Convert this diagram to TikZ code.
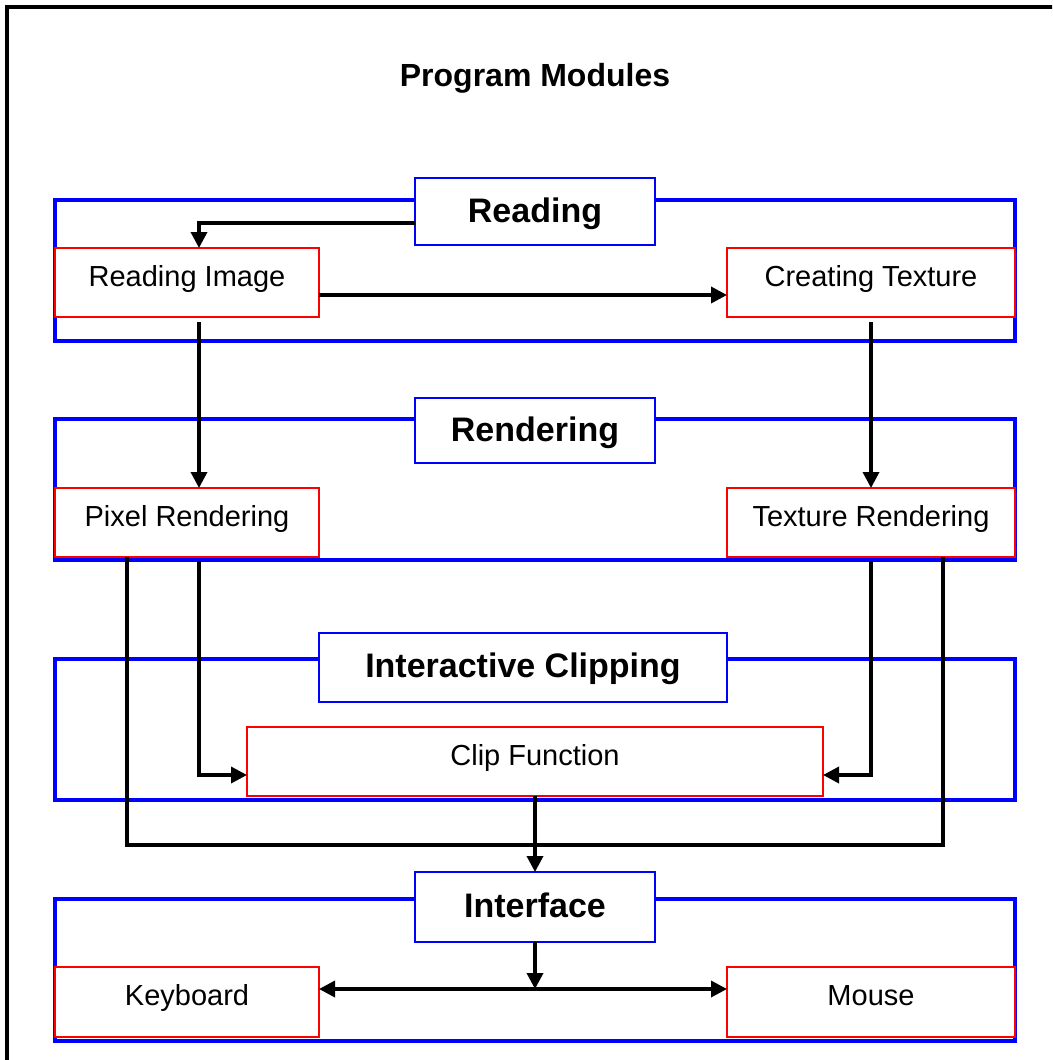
\documentclass[tikz,border=0pt]{standalone}
\usepackage{fontspec}
\setmainfont{Liberation Sans}
\usetikzlibrary{positioning,arrows.meta,calc}

\begin{document}
\begin{tikzpicture}[x=1pt, y=-1pt,
    frame/.style={draw=black, line width=4pt},
    group/.style={draw=blue, line width=4pt},
    titlebox/.style={draw=blue, line width=2pt, fill=white, inner sep=0pt, outer sep=0pt,
        font=\bfseries\fontsize{34}{40}\selectfont, text height=25pt, text depth=4pt},
    modbox/.style={draw=red, line width=2pt, fill=white, inner sep=0pt, outer sep=0pt,
        minimum height=69pt, font=\fontsize{29}{34}\selectfont, text height=21pt, text depth=14pt},
    link/.style={line width=3.5pt},
    arr/.style={link, -{Triangle[length=16pt,width=16pt]}},
    dbl/.style={link, {Triangle[length=16pt,width=16pt]}-{Triangle[length=16pt,width=16pt]}}
]
    \useasboundingbox (0,0) rectangle (1052,1060);
    \clip (0,0) rectangle (1052,1060);

    % Outer frame and title
    \draw[frame] (7,7) rectangle (1064,1072);
    \node[anchor=base, font=\bfseries\fontsize{32}{38}\selectfont] (title) at (535,86) {Program Modules};

    % Module groups
    \draw[group] (55,200) rectangle (1015,341);
    \draw[group] (55,419) rectangle (1015,560);
    \draw[group] (55,659) rectangle (1015,800);
    \draw[group] (55,899) rectangle (1015,1041);

    % Reading
    \node[titlebox, minimum width=240pt, minimum height=67pt] (readT) at (535,211.5) {Reading};
    \node[modbox, minimum width=264pt] (readimg) at (187,282.5) {Reading Image};
    \node[modbox, minimum width=288pt] (crtex) at (871,282.5) {Creating Texture};

    % Rendering
    \node[titlebox, minimum width=240pt, minimum height=65pt] (rendT) at (535,430.5) {Rendering};
    \node[modbox, minimum width=264pt] (pixren) at (187,522.5) {Pixel Rendering};
    \node[modbox, minimum width=288pt] (texren) at (871,522.5) {Texture Rendering};

    % Interactive Clipping
    \node[titlebox, minimum width=408pt, minimum height=69pt] (clipT) at (523,667) {Interactive Clipping};
    \node[modbox, minimum width=576pt] (clip) at (535,761.5) {Clip Function};

    % Interface
    \node[titlebox, minimum width=240pt, minimum height=70pt] (ifaceT) at (535,907) {Interface};
    \node[modbox, minimum width=264pt, minimum height=70pt] (kbd) at (187,1002) {Keyboard};
    \node[modbox, minimum width=288pt, minimum height=70pt] (mouse) at (871,1002) {Mouse};

    % Connections
    \draw[arr] ([yshift=-11.5pt]readT.west) -| ([xshift=12pt]readimg.north);
    \draw[arr] ([yshift=-12.5pt]readimg.east) -- ([yshift=-12.5pt]crtex.west);
    \draw[arr] ([xshift=12pt,yshift=-5pt]readimg.south) -- ([xshift=12pt]pixren.north);
    \draw[arr] ([yshift=-5pt]crtex.south) -- (texren.north);
    \draw[arr] ([xshift=12pt,yshift=-4pt]pixren.south) |- ([yshift=-13.5pt]clip.west);
    \draw[arr] ([yshift=-4pt]texren.south) |- ([yshift=-13.5pt]clip.east);

    \coordinate (join) at (535,845);
    \draw[link] ([xshift=-60pt]pixren.south) |- (join) -| ([xshift=72pt]texren.south);
    \draw[arr] (clip.south) -- (ifaceT.north);

    \coordinate (split) at ($(ifaceT.south |- kbd.east)+(0,-13)$);
    \draw[arr] (ifaceT.south) -- (split);
    \draw[dbl] ([yshift=13pt]kbd.east) -- ([yshift=13pt]mouse.west);

\end{tikzpicture}
\end{document}
